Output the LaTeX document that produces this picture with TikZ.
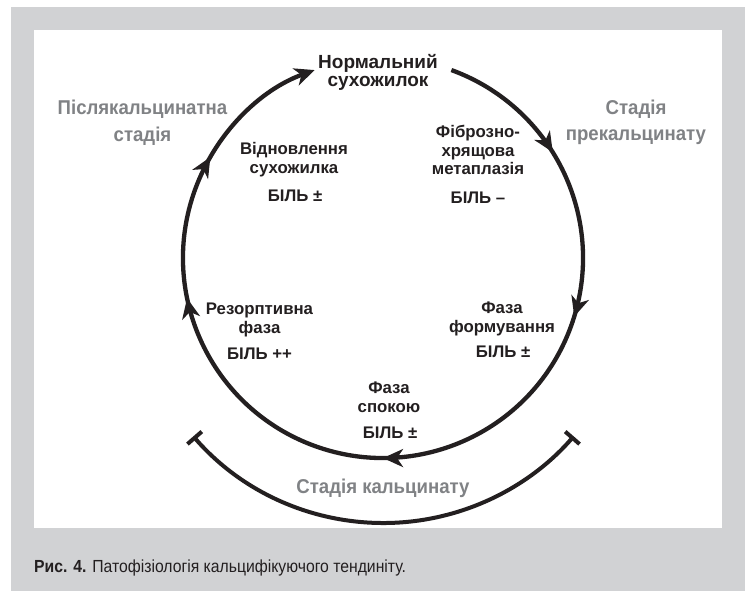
\documentclass[tikz,border=0pt]{standalone}
\usepackage{fontspec}
\setmainfont{Liberation Sans}
\newfontfamily\narrowfont[FakeStretch=0.90]{Liberation Sans}
\newfontfamily\stagefont[FakeStretch=0.93]{Liberation Sans}
\usetikzlibrary{arrows.meta,decorations.markings}
\definecolor{bggray}{RGB}{209,210,212}
\definecolor{stagegray}{RGB}{128,130,133}
\definecolor{ink}{RGB}{35,31,32}
\tikzset{
  lbl/.style={font=\bfseries\fontsize{16.8}{19}\selectfont, text=ink, anchor=base, inner sep=0pt},
  ttl/.style={font=\bfseries\fontsize{19}{21}\selectfont, text=ink, anchor=base, inner sep=0pt},
  stagetext/.style={font=\stagefont\bfseries\fontsize{20}{22}\selectfont, text=stagegray, anchor=base, inner sep=0pt},
  captext/.style={font=\narrowfont\fontsize{17.5}{19}\selectfont, text=ink, anchor=base west, inner sep=0pt},
  cycleline/.style={line width=4.3pt, draw=ink},
}
\begin{document}
\begin{tikzpicture}[x=1pt,y=-1pt]
\useasboundingbox (0,0) rectangle (745,591);
\fill[bggray] (11,7) rectangle (745,591);
\fill[white] (34,30) rectangle (722,528);
% main cycle
\draw[cycleline, -{Stealth[length=20pt,width=18pt,inset=6pt]},
  postaction={decorate},
  decoration={markings,
    mark=at position 0.119 with {\arrow[ink]{Stealth[length=20pt,width=18pt,inset=6pt]}},
    mark=at position 0.272 with {\arrow[ink]{Stealth[length=20pt,width=18pt,inset=6pt]}},
    mark=at position 0.5 with {\arrow[ink]{Stealth[length=20pt,width=18pt,inset=6pt]}},
    mark=at position 0.745 with {\arrow[ink]{Stealth[length=20pt,width=18pt,inset=6pt]}},
    mark=at position 0.876 with {\arrow[ink]{Stealth[length=20pt,width=18pt,inset=6pt]}}}]
  (383,258) ++(-70:200) arc[start angle=-70, end angle=250, radius=200];
% calcinate stage arc
\draw[line width=4pt, draw=ink, {Bar[width=19pt]}-{Bar[width=19pt]}]
  (383.5,271) ++(139:252) arc[start angle=139, end angle=41, radius=252];
% labels
\node[ttl] (n1) at (378,69) {Нормальний};
\node[ttl] (n2) at (378,87) {сухожилок};
\node[lbl] (v1) at (294,155) {Відновлення};
\node[lbl] (v2) at (294,174) {сухожилка};
\node[lbl] (v3) at (295,201) {БІЛЬ ±};
\node[lbl] (f1) at (478,138) {Фіброзно-};
\node[lbl] (f2) at (478,157) {хрящова};
\node[lbl] (f3) at (478,175) {метаплазія};
\node[lbl] (f4) at (478,204) {БІЛЬ –};
\node[lbl] (p1) at (502,313) {Фаза};
\node[lbl] (p2) at (502,332) {формування};
\node[lbl] (p3) at (503,357) {БІЛЬ ±};
\node[lbl] (r1) at (259.5,314) {Резорптивна};
\node[lbl] (r2) at (259.5,333) {фаза};
\node[lbl] (r3) at (259.5,359) {БІЛЬ ++};
\node[lbl] (s1) at (389,393) {Фаза};
\node[lbl] (s2) at (389,412) {спокою};
\node[lbl] (s3) at (390,438) {БІЛЬ ±};
\node[stagetext] (g1) at (142.5,115) {Післякальцинатна};
\node[stagetext] (g2) at (142.5,142) {стадія};
\node[stagetext] (g3) at (636,115) {Стадія};
\node[stagetext] (g4) at (636,141) {прекальцинату};
\node[stagetext] (g5) at (383,493) {Стадія кальцинату};
\node[captext] (c1) at (34,572.5) {\textbf{Рис. 4.} Патофізіологія кальцифікуючого тендиніту.};
\end{tikzpicture}
\end{document}
